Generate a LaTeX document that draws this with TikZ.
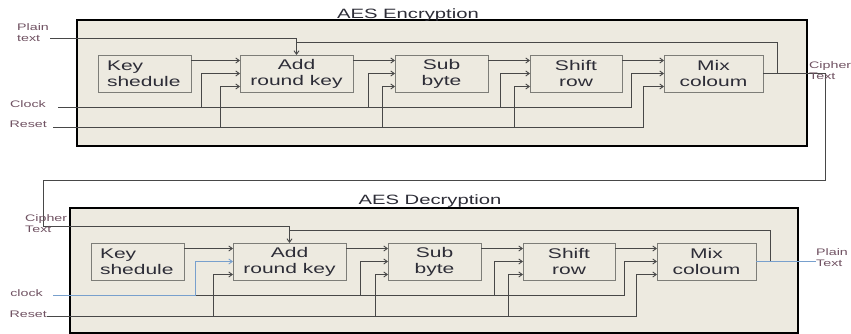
\documentclass[tikz,border=0pt]{standalone}
\usepackage{fontspec}
\setmainfont{Liberation Sans}[FakeStretch=1.5]
\usetikzlibrary{arrows.meta,positioning}
\definecolor{panelfill}{RGB}{237,234,224}
\definecolor{boxline}{RGB}{125,125,120}
\definecolor{wirec}{RGB}{72,72,72}
\definecolor{lblc}{RGB}{112,82,98}
\definecolor{clkblue}{RGB}{120,160,205}
\definecolor{txtc}{RGB}{45,45,55}

\begin{document}
\begin{tikzpicture}[x=1pt, y=-1pt, node distance=42pt, >={Straight Barb[length=3.5pt,width=5pt]}, panel/.style={draw=black, line width=1.5pt, fill=panelfill, inner sep=0pt, outer sep=0pt}, blk/.style={draw=boxline, line width=0.9pt, fill=panelfill, minimum height=37pt, inner sep=0pt, outer sep=0pt, align=center, text=txtc, font=\fontsize{14}{16}\selectfont}, keyblk/.style={blk, align=left, text width=75pt, inner xsep=9pt}, title/.style={text=txtc, font=\fontsize{13.5}{15}\selectfont, inner sep=0pt, anchor=base}, lbl/.style={text=lblc, font=\fontsize{9.5}{11}\selectfont, align=left, inner sep=0pt}, wire/.style={draw=wirec, line width=0.9pt}, arrow/.style={wire,->}]
\useasboundingbox (0,0) rectangle (851,334);

\node[panel, minimum width=730pt, minimum height=126pt] (encp) at (442,83) {};
\node[panel, minimum width=728pt, minimum height=125pt] (decp) at (434,270.5) {};
\node[title] (enct) at (408,18.5) {AES Encryption};
\node[title] (dect) at (430,204) {AES Decryption};

\node[keyblk, minimum width=93pt] (key) at (144.5,73.5) {Key\\shedule};
\node[blk, minimum width=113pt, right=49pt of key] (add) {Add\\round key};
\node[blk, minimum width=93pt, right=of add] (sub) {Sub\\byte};
\node[blk, minimum width=92pt, right=of sub] (shift) {Shift\\row};
\node[blk, minimum width=99pt, right=of shift] (mix) {Mix\\coloum};

\node[keyblk, minimum width=93pt] (key2) at (137.5,261.5) {Key\\shedule};
\node[blk, minimum width=113pt, right=49pt of key2] (add2) {Add\\round key};
\node[blk, minimum width=93pt, right=of add2] (sub2) {Sub\\byte};
\node[blk, minimum width=92pt, right=of sub2] (shift2) {Shift\\row};
\node[blk, minimum width=99pt, right=of shift2] (mix2) {Mix\\coloum};

\coordinate (ptin) at (50,38);
\coordinate (clkin) at (58,107);
\coordinate (rstin) at (53,127);
\coordinate (clkin2) at (53,295);
\coordinate (rstin2) at (47,316);
\coordinate (lp1) at (825,180);
\coordinate (lp2) at (43,180);

\draw[arrow] (ptin) -| (add.north);
\draw[wire] ([xshift=14pt]mix.east) |- ([yshift=13pt]add.north);
\draw[arrow] ([yshift=13pt]key.east) -- ([yshift=13pt]add.west);
\draw[arrow] ([yshift=13pt]add.east) -- ([yshift=13pt]sub.west);
\draw[arrow] ([yshift=13pt]sub.east) -- ([yshift=13pt]shift.west);
\draw[arrow] ([yshift=13pt]shift.east) -- ([yshift=13pt]mix.west);
\draw[arrow] (clkin) -| ([xshift=-39pt]add.west) -- (add.west);
\draw[arrow] (clkin) -| ([xshift=-27pt]sub.west) -- (sub.west);
\draw[arrow] (clkin) -| ([xshift=-30pt]shift.west) -- (shift.west);
\draw[arrow] (clkin) -| ([xshift=-33pt]mix.west) -- (mix.west);
\draw[arrow] (rstin) -| ([xshift=-20pt,yshift=-13pt]add.west) -- ([yshift=-13pt]add.west);
\draw[arrow] (rstin) -| ([xshift=-13pt,yshift=-13pt]sub.west) -- ([yshift=-13pt]sub.west);
\draw[arrow] (rstin) -| ([xshift=-16pt,yshift=-13pt]shift.west) -- ([yshift=-13pt]shift.west);
\draw[arrow] (rstin) -| ([xshift=-21pt,yshift=-13pt]mix.west) -- ([yshift=-13pt]mix.west);
\draw[arrow] (mix.east) -| (lp1) -- (lp2) |- ([yshift=17pt]add2.north) -- (add2.north);

\draw[wire] ([xshift=14pt]mix2.east) |- ([yshift=13pt]add2.north);
\draw[arrow] ([yshift=13pt]key2.east) -- ([yshift=13pt]add2.west);
\draw[arrow] ([yshift=13pt]add2.east) -- ([yshift=13pt]sub2.west);
\draw[arrow] ([yshift=13pt]sub2.east) -- ([yshift=13pt]shift2.west);
\draw[arrow] ([yshift=13pt]shift2.east) -- ([yshift=13pt]mix2.west);
\draw[arrow] (clkin2) -| ([xshift=-28pt]sub2.west) -- (sub2.west);
\draw[arrow] (clkin2) -| ([xshift=-29pt]shift2.west) -- (shift2.west);
\draw[arrow] (clkin2) -| ([xshift=-33pt]mix2.west) -- (mix2.west);
\draw[arrow, draw=clkblue] (clkin2) -| ([xshift=-38pt]add2.west) -- (add2.west);
\draw[arrow] (rstin2) -| ([xshift=-20pt,yshift=-13pt]add2.west) -- ([yshift=-13pt]add2.west);
\draw[arrow] (rstin2) -| ([xshift=-13pt,yshift=-13pt]sub2.west) -- ([yshift=-13pt]sub2.west);
\draw[arrow] (rstin2) -| ([xshift=-15pt,yshift=-13pt]shift2.west) -- ([yshift=-13pt]shift2.west);
\draw[arrow] (rstin2) -| ([xshift=-21pt,yshift=-13pt]mix2.west) -- ([yshift=-13pt]mix2.west);

\node[lbl, anchor=west] (ptl) at (17,33) {Plain\\text};
\node[lbl, anchor=east] (clkl) at (46,104) {Clock};
\node[lbl, anchor=east] (rstl) at (47,124) {Reset};
\node[lbl, anchor=west] (ctl) at (809,71) {Cipher\\Text};
\node[lbl, anchor=west] (ctl2) at (25,223.5) {Cipher\\Text};
\node[lbl, anchor=east] (clkl2) at (43,293) {clock};
\node[lbl, anchor=east] (rstl2) at (47,314) {Reset};
\node[lbl, anchor=west] (ptl2) at (816,258) {Plain\\Text};
\draw[draw=clkblue, line width=0.8pt] (mix2.east) -- (mix2.east -| ptl2.west);
\end{tikzpicture}
\end{document}
